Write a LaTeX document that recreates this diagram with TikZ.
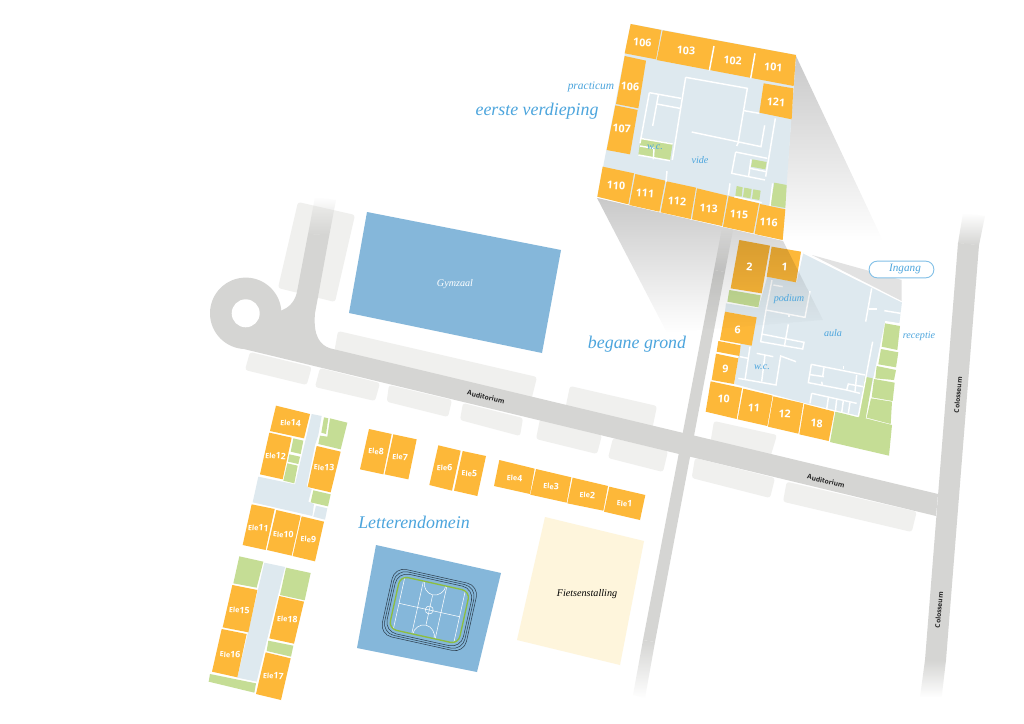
\documentclass[tikz,border=0pt]{standalone}
\usepackage{fontspec}
\setmainfont{Liberation Serif}
\newfontfamily\numfont{Open Sans}
\usetikzlibrary{fadings}
\definecolor{roomorange}{HTML}{FDB839}
\definecolor{plantgreen}{HTML}{C5DD95}
\definecolor{floorblue}{HTML}{DEE9EF}
\definecolor{roadgrey}{HTML}{D5D5D3}
\definecolor{parkgrey}{HTML}{F0F0EE}
\definecolor{hallblue}{HTML}{85B7DA}
\definecolor{bikecream}{HTML}{FEF5DC}
\definecolor{labelblue}{HTML}{4CA5DD}
\definecolor{ringdark}{HTML}{2E4050}
\definecolor{fieldgreen}{HTML}{8DBE3F}
\definecolor{roofgrey}{HTML}{E2E2E2}
\tikzfading[name=shadowfade, top color=transparent!0, middle color=transparent!80, bottom color=transparent!100]
\newcommand{\ele}[1]{{\fontsize{5.4}{5.4}\selectfont Ele}#1}
\tikzset{
  room/.style={fill=roomorange},
  plant/.style={fill=plantgreen},
  hall/.style={fill=floorblue},
  road/.style={fill=roadgrey},
  park/.style={fill=parkgrey, rounded corners=2pt},
  wall/.style={draw=white, line width=1.1pt},
  roomnum/.style={text=white, font=\numfont\bfseries\fontsize{8}{8}\selectfont, inner sep=0pt, rotate=-4},
  eleroom/.style={text=white, font=\numfont\bfseries\fontsize{6.6}{6.6}\selectfont, inner sep=0pt, rotate=-4},
  bluetext/.style={text=labelblue, font=\itshape\fontsize{7.6}{7.6}\selectfont, inner sep=0pt},
  bigtext/.style={text=labelblue, font=\itshape\fontsize{13.4}{13.4}\selectfont, inner sep=0pt},
  roadname/.style={text=black!85, font=\numfont\bfseries\fontsize{5}{5}\selectfont, inner sep=0pt},
  courtline/.style={draw=white, line width=0.4pt},
  ring/.style={draw=ringdark, line width=0.4pt, rounded corners=9pt},
  shadowpart/.style={fill=black, opacity=0.21, path fading=shadowfade}
}
\begin{document}
\begin{tikzpicture}[x=0.75pt,y=-0.75pt]
            \fill[white] (0,0) rectangle (1024,724);

            % parking
            \fill[park] (298,202) -- (355,215) -- (335,302) -- (278,288) -- cycle;
            \fill[park] (250,352) -- (311.7,367) -- (306.7,385) -- (245,370) -- cycle;
            \fill[park] (320,368) -- (380,383) -- (375,401) -- (315,387) -- cycle;
            \fill[park] (389,385) -- (452,400) -- (448,417) -- (386.7,401.7) -- cycle;
            \fill[park] (463,403) -- (523,418) -- (520,436) -- (460,420) -- cycle;
            \fill[park] (540,419) -- (602,435) -- (597,454) -- (536,439) -- cycle;
            \fill[park] (613,438) -- (668,451) -- (663,472) -- (608,458) -- cycle;
            \fill[park] (338,331) -- (537,377) -- (530,405) -- (333,359) -- cycle;
            \fill[park] (570,386) -- (657,406) -- (652,430) -- (565,410) -- cycle;
            \fill[park] (714,421) -- (777,435) -- (770,458) -- (710,445) -- cycle;
            \fill[park] (695,458) -- (775,478) -- (770,498) -- (691.7,478) -- cycle;
            \fill[park] (786.7,481.7) -- (916.7,511.7) -- (911.7,532) -- (783,501.7) -- cycle;

            % roads
            \fill[road] (308,234) -- (296.7,293.3) .. controls (294,303) and (288,308) .. (281,310.7)
                -- (245,313) -- (236.7,347.3) -- (936,516) -- (938,494) -- (330,348.3)
                .. controls (320,345) and (313,336) .. (315,313.3) -- (329.3,235) -- cycle;
            \fill[road] (245.7,313.3) circle (35.7);
            \fill[white] (245.7,313.3) circle (14);
            \fill[road, path fading=north] (315,197) -- (336,200) -- (329.3,235.2) -- (308,234.2) -- cycle;

            \fill[road] (714,270) -- (643,640) -- (655,642) -- (725,272) -- cycle;
            \fill[road, path fading=north] (722,228) -- (733,230) -- (725,272) -- (714,270) -- cycle;
            \fill[road, path fading=south] (643,640) -- (655,642) -- (645,698) -- (633,695) -- cycle;

            \fill[road] (958,243) -- (925,660) -- (946,660) -- (979,245) -- cycle;
            \fill[road, path fading=north] (963,213) -- (985,216) -- (979,245.2) -- (958,243.2) -- cycle;
            \fill[road, path fading=south] (925,660) -- (946,660) -- (941.7,697) -- (920,697) -- cycle;

            % big fields
            \fill[hallblue] (367,212) -- (561,250) -- (542,353) -- (349,313) -- cycle;
            \fill[bikecream] (545,517) -- (644,541) -- (620,665) -- (517,640) -- cycle;
            \fill[hallblue] (376,545) -- (501,573) -- (477,672) -- (357,648) -- cycle;

            % sports court
            \begin{scope}[shift={(429.3,610)},rotate=-12.5]
                \draw[ring] (-39.1,-30.5) rectangle (39.1,30.5);
                \draw[ring] (-41.1,-32.5) rectangle (41.1,32.5);
                \draw[ring] (-43.1,-34.5) rectangle (43.1,34.5);
                \draw[courtline] (-31,-27) -- (-31,27);
                \draw[courtline] (-12,-27) -- (-12,27);
                \draw[courtline] (12,-27) -- (12,27);
                \draw[courtline] (31,-27) -- (31,27);
                \draw[courtline] (-31,0) -- (31,0);
                \draw[courtline] (0,-15) -- (0,15);
                \draw[courtline] (0,0) circle (4);
                \draw[courtline] (-11,-27) .. controls (-11,-21) and (-6,-15.5) .. (0,-15.5) .. controls (6,-15.5) and (11,-21) .. (11,-27);
                \draw[courtline] (-11,27) .. controls (-11,21) and (-6,15.5) .. (0,15.5) .. controls (6,15.5) and (11,21) .. (11,27);
                \draw[draw=fieldgreen, line width=1pt, rounded corners=6pt] (-35.6,-27) rectangle (35.6,27);
            \end{scope}

            % Ele wings, left of the field
            \begin{scope}[shift={(200,395)},scale=1/3]
                \fill[hall] (335,57) -- (365,63) -- (355,120) -- (345,150) -- (320,275) -- (335,283) -- (325,320)
                    -- (342,327) -- (337,363) -- (158,322) -- (175,245) -- (285,268) -- cycle;
                \fill[hall] (348,332) -- (382,340) -- (375,374) -- (340,365) -- cycle;
                \fill[hall] (193,503) -- (255,516) -- (170,860) -- (112,848) -- cycle;

                \fill[room] (228,32) -- (330,57) -- (312,130) -- (210,108) -- cycle;
                \fill[room] (208,113) -- (275,128) -- (248,253) -- (180,238) -- cycle;
                \fill[room] (350,153) -- (422,170) -- (392,292) -- (323,276) -- cycle;
                \fill[room] (155,328) -- (224,342) -- (197,465) -- (128,450) -- cycle;
                \fill[room] (229,345) -- (302,362) -- (275,482) -- (201,465) -- cycle;
                \fill[room] (305,364) -- (372,380) -- (345,499) -- (278,483) -- cycle;
                \fill[room] (97,570) -- (172,585) -- (145,712) -- (68,697) -- cycle;
                \fill[room] (65,702) -- (140,717) -- (112,847) -- (36,830) -- cycle;
                \fill[room] (238,603) -- (312,620) -- (282,746) -- (208,730) -- cycle;
                \fill[room] (197,772) -- (272,790) -- (243,915) -- (168,897) -- cycle;

                \fill[plant] (280,130) -- (310,137) -- (302,177) -- (272,170) -- cycle;
                \fill[plant] (268,178) -- (300,185) -- (295,207) -- (264,200) -- cycle;
                \fill[plant] (262,205) -- (293,212) -- (283,265) -- (250,257) -- cycle;
                \fill[plant] (372,67) -- (385,70) -- (378,117) -- (364,113) -- cycle;
                \fill[plant] (390,70) -- (442,83) -- (422,163) -- (355,147) -- (360,122) -- (382,125) -- cycle;
                \fill[plant] (340,286) -- (392,298) -- (384,334) -- (332,322) -- cycle;
                \fill[plant] (118,484) -- (190,500) -- (170,578) -- (100,565) -- cycle;
                \fill[plant] (258,518) -- (332,534) -- (314,616) -- (240,600) -- cycle;
                \fill[plant] (205,737) -- (280,752) -- (273,785) -- (200,768) -- cycle;
                \fill[plant] (30,837) -- (168,865) -- (163,893) -- (26,860) -- cycle;

                \node[eleroom] (ele14) at (272,83) {\ele{14}};
                \node[eleroom] (ele12) at (227,182) {\ele{12}};
                \node[eleroom] (ele13) at (372,217) {\ele{13}};
                \node[eleroom] (ele11) at (175,398) {\ele{11}};
                \node[eleroom] (ele10) at (250,418) {\ele{10}};
                \node[eleroom] (ele9) at (325,432) {\ele{9}};
                \node[eleroom] (ele15) at (118,645) {\ele{15}};
                \node[eleroom] (ele16) at (90,778) {\ele{16}};
                \node[eleroom] (ele18) at (262,672) {\ele{18}};
                \node[eleroom] (ele17) at (220,842) {\ele{17}};
            \end{scope}

            % Ele row
            \begin{scope}[shift={(350,420)},scale=1/3]
                \fill[room] (57,27) -- (125,42) -- (100,163) -- (30,148) -- cycle;
                \fill[room] (130,43) -- (200,58) -- (175,178) -- (104,163) -- cycle;
                \fill[room] (265,76) -- (332,92) -- (306,212) -- (238,195) -- cycle;
                \fill[room] (338,93) -- (408,108) -- (382,228) -- (312,212) -- cycle;
                \fill[room] (448,120) -- (554,146) -- (540,222) -- (432,198) -- cycle;
                \fill[room] (558,147) -- (664,172) -- (650,248) -- (541,224) -- cycle;
                \fill[room] (668,173) -- (774,198) -- (760,272) -- (652,250) -- cycle;
                \fill[room] (778,200) -- (886,225) -- (870,300) -- (762,275) -- cycle;

                \node[eleroom] (ele8) at (78,93) {\ele{8}};
                \node[eleroom] (ele7) at (150,111) {\ele{7}};
                \node[eleroom] (ele6) at (284,143) {\ele{6}};
                \node[eleroom] (ele5) at (358,160) {\ele{5}};
                \node[eleroom] (ele4) at (494,174) {\ele{4}};
                \node[eleroom] (ele3) at (603,198) {\ele{3}};
                \node[eleroom] (ele2) at (712,224) {\ele{2}};
                \node[eleroom] (ele1) at (824,250) {\ele{1}};
            \end{scope}

            % ground floor
            \begin{scope}[shift={(690,230)},scale=1/3]
                \fill[hall] (340,68) -- (636,215) -- (628,280) -- (585,275) -- (525,562) -- (340,518) -- (133,462)
                    -- (150,345) -- (200,262) -- (105,245) -- (108,220) -- (205,235) -- (232,140) -- (320,157) -- cycle;
                \fill[room] (148,30) -- (240,47) -- (215,190) -- (122,175) -- cycle;
                \fill[room] (245,50) -- (333,65) -- (318,157) -- (230,140) -- cycle;
                \fill[room] (105,245) -- (200,262) -- (185,347) -- (90,330) -- cycle;
                \fill[room] (85,333) -- (152,346) -- (148,378) -- (80,365) -- cycle;
                \fill[room] (78,371) -- (145,385) -- (132,462) -- (65,450) -- cycle;
                \fill[room] (62,454) -- (156,474) -- (140,567) -- (47,545) -- cycle;
                \fill[room] (160,476) -- (248,497) -- (232,588) -- (143,568) -- cycle;
                \fill[room] (250,499) -- (340,520) -- (325,611) -- (234,590) -- cycle;
                \fill[room] (343,522) -- (433,545) -- (416,633) -- (328,613) -- cycle;

                \fill[plant] (118,180) -- (212,196) -- (205,232) -- (112,215) -- cycle;
                \fill[plant] (436,545) -- (505,562) -- (525,440) -- (548,445) -- (527,565) -- (606,585) -- (597,677) -- (420,636) -- cycle;
                \fill[plant] (585,280) -- (630,288) -- (622,360) -- (575,350) -- cycle;
                \fill[plant] (573,357) -- (625,367) -- (618,412) -- (565,403) -- cycle;
                \fill[plant] (560,408) -- (618,420) -- (612,450) -- (556,445) -- cycle;
                \fill[plant] (552,447) -- (614,458) -- (608,513) -- (545,502) -- cycle;
                \fill[plant] (543,505) -- (606,515) -- (602,582) -- (530,563) -- cycle;

                \draw[wall] (246,150) -- (228,240) -- (345,262) -- (360,183);
                \draw[wall] (250,165) -- (278,170);
                \draw[wall] (297,255) -- (297,262);
                \draw[wall] (228,240) -- (212,335) -- (338,357) -- (342,337) -- (215,312);
                \draw[wall] (295,283) -- (283,350);
                \draw[wall] (340,68) -- (636,215);
                \draw[wall] (545,175) -- (527,275);
                \draw[wall] (537,237) -- (560,237);
                \draw[wall] (583,242) -- (632,250);
                \draw[wall] (585,275) -- (630,282);
                \draw[wall] (548,335) -- (505,560);
                \draw[wall] (364,403) -- (525,435);
                \draw[wall] (364,403) -- (355,458) -- (470,480) -- (475,462) -- (520,470);
                \draw[wall] (360,434) -- (402,440);
                \draw[wall] (402,412) -- (398,440);
                \draw[wall] (395,455) -- (397,465);
                \draw[wall] (461,408) -- (461,418);
                \draw[wall] (470,480) -- (510,490);
                \draw[wall] (500,435) -- (495,485);
                \draw[wall] (365,490) -- (500,520);
                \draw[wall] (365,490) -- (360,520);
                \draw[wall] (415,503) -- (410,538);
                \draw[wall] (440,508) -- (436,545);
                \draw[wall] (460,512) -- (455,548);
                \draw[wall] (480,517) -- (475,550);
                \draw[wall] (180,350) -- (165,450);
                \draw[wall] (150,380) -- (175,385);
                \draw[wall] (145,445) -- (258,465) -- (272,378) -- (318,395);
                \draw[wall] (200,370) -- (250,380);
                \draw[wall] (225,375) -- (215,455);
            \end{scope}

            % shadows of the upper floor
            \fill[roofgrey] (812,255) -- (901.7,280) -- (901.7,301) -- cycle;
            \fill[shadowpart] (597,198) -- (783,241) -- (823,320) -- (667,333) -- cycle;
            \fill[shadowpart] (796,56) -- (782,241) -- (883,241) -- cycle;

            % first floor
            \begin{scope}[shift={(590,20)},scale=1/3]
                \fill[hall] (122,12) -- (618,105) -- (578,660) -- (22,530) -- cycle;
                \fill[room] (122,12) -- (214,30) -- (198,118) -- (104,100) -- cycle;
                \fill[room] (218,31) -- (618,105) -- (611,198) -- (200,120) -- cycle;
                \fill[room] (521,190) -- (610,205) -- (605,298) -- (508,278) -- cycle;
                \fill[room] (104,108) -- (168,122) -- (145,265) -- (78,252) -- cycle;
                \fill[room] (76,256) -- (143,270) -- (120,403) -- (50,390) -- cycle;
                \fill[room] (38,440) -- (132,460) -- (115,553) -- (22,530) -- cycle;
                \fill[room] (136,462) -- (226,482) -- (208,575) -- (118,555) -- cycle;
                \fill[room] (230,484) -- (318,503) -- (302,597) -- (212,577) -- cycle;
                \fill[room] (321,505) -- (412,527) -- (396,618) -- (306,598) -- cycle;
                \fill[room] (416,528) -- (507,550) -- (490,640) -- (399,620) -- cycle;
                \fill[room] (510,552) -- (586,568) -- (578,660) -- (494,642) -- cycle;

                \fill[plant] (152,354) -- (248,370) -- (240,422) -- (145,405) -- cycle;
                \fill[plant] (487,418) -- (530,426) -- (526,448) -- (483,440) -- cycle;
                \fill[plant] (440,498) -- (458,502) -- (455,530) -- (436,527) -- cycle;
                \fill[plant] (463,503) -- (485,507) -- (481,535) -- (459,531) -- cycle;
                \fill[plant] (490,508) -- (512,512) -- (508,540) -- (486,536) -- cycle;
                \fill[plant] (553,488) -- (590,495) -- (586,564) -- (541,556) -- cycle;

                \draw[wall] (372,78) -- (358,152);
                \draw[wall] (495,100) -- (482,175);
                \draw[wall] (462,272) -- (508,280);
                \draw[wall] (287,172) -- (472,205) -- (444,370) -- (440,378);
                \draw[wall] (287,172) -- (247,420);
                \draw[wall] (305,336) -- (513,380) -- (524,316);
                \draw[wall] (556,295) -- (527,470);
                \draw[wall] (178,218) -- (273,235);
                \draw[wall] (178,218) -- (150,370);
                \draw[wall] (205,225) -- (188,318);
                \draw[wall] (200,252) -- (270,265);
                \draw[wall] (150,355) -- (248,372);
                \draw[wall] (150,378) -- (192,385) -- (190,418);
                \draw[wall] (145,405) -- (240,422);
                \draw[wall] (437,396) -- (532,415);
                \draw[wall] (437,396) -- (425,460) -- (525,480);
                \draw[wall] (480,445) -- (528,455);
                \draw[wall] (483,418) -- (476,468);
                \draw[wall] (231,453) -- (228,485);
                \draw[wall] (420,490) -- (415,525);
                \draw[wall] (433,530) -- (515,548);
                \draw[wall] (548,490) -- (540,558);

                \node[roomnum] (r106t) at (157,68) {106};
                \node[roomnum] (r103) at (288,92) {103};
                \node[roomnum] (r102) at (428,122) {102};
                \node[roomnum] (r101) at (550,142) {101};
                \node[roomnum] (r121) at (558,247) {121};
                \node[roomnum] (r106l) at (120,200) {106};
                \node[roomnum] (r107) at (95,326) {107};
                \node[roomnum] (r110) at (78,497) {110};
                \node[roomnum] (r111) at (165,520) {111};
                \node[roomnum] (r112) at (261,543) {112};
                \node[roomnum] (r113) at (356,566) {113};
                \node[roomnum] (r115) at (447,584) {115};
                \node[roomnum] (r116) at (536,606) {116};
            \end{scope}

            \begin{scope}[shift={(690,230)},scale=1/3]
                \node[roomnum] (r2) at (178,111) {2};
                \node[roomnum] (r1) at (284,112) {1};
                \node[roomnum] (r6) at (143,299) {6};
                \node[roomnum] (r9) at (106,418) {9};
                \node[roomnum] (r10) at (101,507) {10};
                \node[roomnum] (r11) at (192,533) {11};
                \node[roomnum] (r12) at (284,552) {12};
                \node[roomnum] (r18) at (380,580) {18};
            \end{scope}

            \node[draw=labelblue!70, fill=white, line width=0.7pt, rounded corners=6pt, minimum width=48.5pt, minimum height=12.5pt, inner sep=0pt] (ingangbox) at (901.5,269.5) {};
            \node[bluetext, font=\itshape\fontsize{8.4}{8.4}\selectfont] (ingang) at (905,269) {Ingang};

            \node[bluetext, font=\itshape\fontsize{8.6}{8.6}\selectfont] (practicum) at (591,87) {practicum};
            \node[bigtext] (eerste) at (537,111) {eerste verdieping};
            \node[bigtext] (begane) at (637,344) {begane grond};
            \node[bigtext] (letteren) at (414,522) {Letterendomein};
            \node[bluetext] (wc1) at (655,147) {w.c.};
            \node[bluetext] (vide) at (700,160) {vide};
            \node[bluetext] (podium) at (789,299) {podium};
            \node[bluetext] (aula) at (833,333) {aula};
            \node[bluetext] (wc0) at (762,367) {w.c.};
            \node[bluetext] (receptie) at (919,336) {receptie};
            \node[text=white, font=\itshape\fontsize{7.6}{7.6}\selectfont, inner sep=0pt] (gymzaal) at (455,284) {Gymzaal};
            \node[text=black, font=\itshape\fontsize{7.6}{7.6}\selectfont, inner sep=0pt] (fiets) at (587,594) {Fietsenstalling};

            \node[roadname, rotate=-13.5] (aud1) at (486,397) {Auditorium};
            \node[roadname, rotate=-13.5] (aud2) at (826,481) {Auditorium};
            \node[roadname, rotate=85] (col1) at (958,395) {Colosseum};
            \node[roadname, rotate=85] (col2) at (939,610) {Colosseum};
        \end{tikzpicture}
\end{document}
